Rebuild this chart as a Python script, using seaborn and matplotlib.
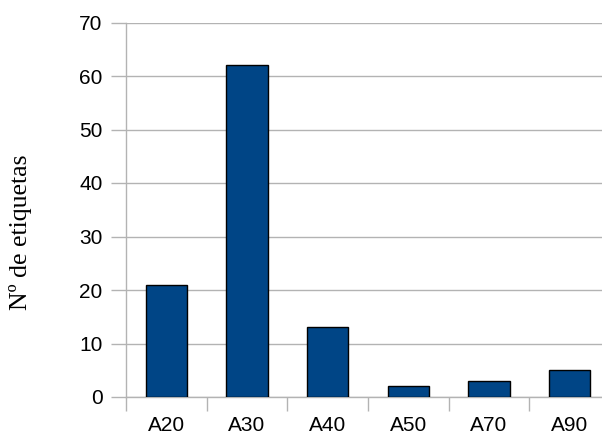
import numpy as np
import pandas as pd
import matplotlib.pyplot as plt
import seaborn as sns

sns.set_style("white")
plt.rcParams["font.family"] = ["Liberation Sans", "DejaVu Sans"]
plt.rcParams["text.color"] = "black"
plt.rcParams["axes.labelcolor"] = "black"
plt.rcParams["xtick.color"] = "black"
plt.rcParams["ytick.color"] = "black"

# Data
categories = ["A20", "A30", "A40", "A50", "A70", "A90"]
counts = [21, 62, 13, 2, 3, 5]

df = pd.DataFrame({"Categoria": categories, "Etiquetas": counts})

fig = plt.figure(figsize=(6.02, 4.38), dpi=100)
ax = fig.add_axes([126 / 602, 41 / 438, 484 / 602, 374.5 / 438])

sns.barplot(data=df, x="Categoria", y="Etiquetas", color="#004586",
            saturation=1, width=0.51, edgecolor="black", linewidth=1,
            ax=ax, zorder=3)

ax.set_ylim(0, 70)
ax.set_xlim(-0.5, len(categories) - 0.5)
ax.set_yticks(range(0, 71, 10))
ax.yaxis.grid(True, color="#b3b3b3", linewidth=1, zorder=0)
ax.xaxis.grid(False)

# ticks between categories, like the original
ax.set_xticks(np.arange(-0.5, len(categories), 1), minor=True)
ax.tick_params(axis="x", which="major", length=0, pad=13.5, labelsize=15,
               labelcolor="black")
ax.tick_params(axis="x", which="minor", length=10, width=1, color="#b3b3b3",
               direction="out", bottom=True)
ax.tick_params(axis="y", length=11, width=1, color="#b3b3b3", direction="out",
               left=True, pad=6, labelsize=15, labelcolor="black")

for side in ["top", "right"]:
    ax.spines[side].set_visible(False)
for side in ["left", "bottom"]:
    ax.spines[side].set_color("#b3b3b3")
    ax.spines[side].set_linewidth(1)

ax.set_xlabel("")
ax.set_ylabel("Nº de etiquetas", family=["Liberation Serif", "DejaVu Serif"],
              fontsize=18.5, va="center", color="black")
ax.yaxis.set_label_coords((21 - 126) / 484, (397 - 232) / 374.5)

fig.savefig("out.png", dpi=100)
